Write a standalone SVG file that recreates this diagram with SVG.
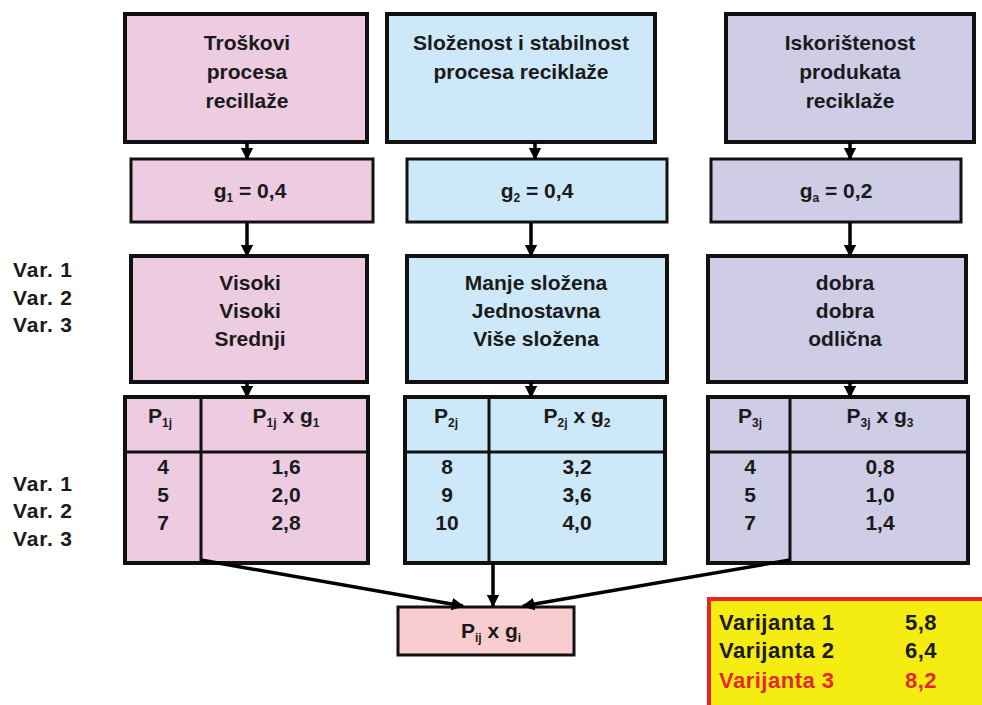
<svg xmlns="http://www.w3.org/2000/svg" width="982" height="705" viewBox="0 0 982 705">
  <style>
    .box { stroke: #111; stroke-width: 4; }
    .thin { stroke: #111; stroke-width: 3; }
    .pink { fill: #EDCCE2; }
    .blue { fill: #CDE9F9; }
    .violet { fill: #CFCCE6; }
    .rose { fill: #F9CDCF; }
    text { font-family: "Liberation Sans", Arial, sans-serif; fill: #1a1a1a; }
    .t { font-size: 21px; font-weight: bold; text-anchor: middle; }
    .v { font-size: 21px; font-weight: bold; letter-spacing: 0.8px; }
    .sub { font-size: 12px; }
    .conn { stroke: #000; stroke-width: 3.5; fill: none; }
    .res { font-size: 22px; font-weight: bold; letter-spacing: 0.5px; }
    .hot { fill: #E5262B; }
  </style>
  <defs>
    <marker id="arrow" viewBox="0 0 10 10" refX="9" refY="5" markerWidth="3.6" markerHeight="3.6" orient="auto" markerUnits="strokeWidth">
      <path d="M0,0 L10,5 L0,10 Z" fill="#000"/>
    </marker>
  </defs>

  <!-- criteria -->
  <g id="crit1">
    <rect class="box pink" x="125" y="14" width="242" height="128"/>
    <text class="t" x="247" y="50">Troškovi</text>
    <text class="t" x="247" y="79">procesa</text>
    <text class="t" x="247" y="108">recillaže</text>
  </g>
  <g id="crit2">
    <rect class="box blue" x="387" y="14" width="268" height="128"/>
    <text class="t" x="521" y="50">Složenost i stabilnost</text>
    <text class="t" x="521" y="79">procesa reciklaže</text>
  </g>
  <g id="crit3">
    <rect class="box violet" x="726" y="14" width="248" height="128"/>
    <text class="t" x="850" y="50">Iskorištenost</text>
    <text class="t" x="850" y="79">produkata</text>
    <text class="t" x="850" y="108">reciklaže</text>
  </g>

  <!-- weights -->
  <g id="weight1">
    <rect class="thin pink" x="131" y="159" width="242" height="63"/>
    <text class="t" x="250" y="198">g<tspan class="sub" dy="4">1</tspan><tspan dy="-4"> = 0,4</tspan></text>
  </g>
  <g id="weight2">
    <rect class="thin blue" x="407" y="159" width="260" height="63"/>
    <text class="t" x="537" y="198">g<tspan class="sub" dy="4">2</tspan><tspan dy="-4"> = 0,4</tspan></text>
  </g>
  <g id="weight3">
    <rect class="thin violet" x="711" y="159" width="250" height="63"/>
    <text class="t" x="836" y="198">g<tspan class="sub" dy="4">a</tspan><tspan dy="-4"> = 0,2</tspan></text>
  </g>

  <!-- variant labels -->
  <g id="varLabelsTop">
    <text class="v" x="13" y="277">Var. 1</text>
    <text class="v" x="13" y="305">Var. 2</text>
    <text class="v" x="13" y="332">Var. 3</text>
  </g>
  <g id="varLabelsBottom">
    <text class="v" x="13" y="491">Var. 1</text>
    <text class="v" x="13" y="518">Var. 2</text>
    <text class="v" x="13" y="546">Var. 3</text>
  </g>

  <!-- ratings -->
  <g id="rating1">
    <rect class="box pink" x="131" y="256" width="236" height="126"/>
    <text class="t" x="250" y="290">Visoki</text>
    <text class="t" x="250" y="318">Visoki</text>
    <text class="t" x="250" y="346">Srednji</text>
  </g>
  <g id="rating2">
    <rect class="box blue" x="407" y="256" width="260" height="126"/>
    <text class="t" x="536" y="290">Manje složena</text>
    <text class="t" x="536" y="318">Jednostavna</text>
    <text class="t" x="536" y="346">Više složena</text>
  </g>
  <g id="rating3">
    <rect class="box violet" x="708" y="256" width="258" height="126"/>
    <text class="t" x="845" y="290">dobra</text>
    <text class="t" x="845" y="318">dobra</text>
    <text class="t" x="845" y="346">odlična</text>
  </g>

  <!-- score tables -->
  <g id="table1">
    <rect class="box pink" x="125" y="397" width="243" height="166"/>
    <line class="thin" x1="201" y1="397" x2="201" y2="563"/>
    <line class="thin" x1="125" y1="452" x2="368" y2="452"/>
    <text class="t" x="160" y="423">P<tspan class="sub" dy="4">1j</tspan></text>
    <text class="t" x="286" y="423">P<tspan class="sub" dy="4">1j</tspan><tspan dy="-4"> x g</tspan><tspan class="sub" dy="4">1</tspan></text>
    <text class="t" x="163" y="474">4</text>
    <text class="t" x="163" y="502">5</text>
    <text class="t" x="163" y="530">7</text>
    <text class="t" x="286" y="474">1,6</text>
    <text class="t" x="286" y="502">2,0</text>
    <text class="t" x="286" y="530">2,8</text>
  </g>
  <g id="table2">
    <rect class="box blue" x="405" y="397" width="260" height="166"/>
    <line class="thin" x1="489" y1="397" x2="489" y2="563"/>
    <line class="thin" x1="405" y1="452" x2="665" y2="452"/>
    <text class="t" x="446" y="423">P<tspan class="sub" dy="4">2j</tspan></text>
    <text class="t" x="577" y="423">P<tspan class="sub" dy="4">2j</tspan><tspan dy="-4"> x g</tspan><tspan class="sub" dy="4">2</tspan></text>
    <text class="t" x="447" y="474">8</text>
    <text class="t" x="447" y="502">9</text>
    <text class="t" x="447" y="530">10</text>
    <text class="t" x="577" y="474">3,2</text>
    <text class="t" x="577" y="502">3,6</text>
    <text class="t" x="577" y="530">4,0</text>
  </g>
  <g id="table3">
    <rect class="box violet" x="708" y="397" width="260" height="166"/>
    <line class="thin" x1="790" y1="397" x2="790" y2="563"/>
    <line class="thin" x1="708" y1="452" x2="968" y2="452"/>
    <text class="t" x="750" y="423">P<tspan class="sub" dy="4">3j</tspan></text>
    <text class="t" x="880" y="423">P<tspan class="sub" dy="4">3j</tspan><tspan dy="-4"> x g</tspan><tspan class="sub" dy="4">3</tspan></text>
    <text class="t" x="750" y="474">4</text>
    <text class="t" x="750" y="502">5</text>
    <text class="t" x="750" y="530">7</text>
    <text class="t" x="880" y="474">0,8</text>
    <text class="t" x="880" y="502">1,0</text>
    <text class="t" x="880" y="530">1,4</text>
  </g>

  <!-- weighted sum -->
  <g id="sum">
    <rect class="thin rose" x="398" y="607" width="176" height="48"/>
    <text class="t" x="491" y="638">P<tspan class="sub" dy="4">ij</tspan><tspan dy="-4"> x g</tspan><tspan class="sub" dy="4">i</tspan></text>
  </g>

  <!-- results -->
  <g id="results">
    <rect x="709" y="599" width="276" height="110" fill="#F5EC12" stroke="#E5262B" stroke-width="4"/>
    <text class="res" x="719" y="630">Varijanta 1</text>
    <text class="res" x="905" y="630">5,8</text>
    <text class="res" x="719" y="658">Varijanta 2</text>
    <text class="res" x="905" y="658">6,4</text>
    <text class="res hot" x="719" y="688">Varijanta 3</text>
    <text class="res hot" x="905" y="688">8,2</text>
  </g>

  <!-- connectors -->
  <g id="connectors">
    <line class="conn" x1="247" y1="142" x2="247" y2="159" marker-end="url(#arrow)"/>
    <line class="conn" x1="535" y1="142" x2="535" y2="159" marker-end="url(#arrow)"/>
    <line class="conn" x1="850" y1="142" x2="850" y2="159" marker-end="url(#arrow)"/>
    <line class="conn" x1="247" y1="222" x2="247" y2="256" marker-end="url(#arrow)"/>
    <line class="conn" x1="531" y1="222" x2="531" y2="256" marker-end="url(#arrow)"/>
    <line class="conn" x1="850" y1="222" x2="850" y2="256" marker-end="url(#arrow)"/>
    <line class="conn" x1="247" y1="382" x2="247" y2="397" marker-end="url(#arrow)"/>
    <line class="conn" x1="531" y1="382" x2="531" y2="397" marker-end="url(#arrow)"/>
    <line class="conn" x1="850" y1="382" x2="850" y2="397" marker-end="url(#arrow)"/>
    <line class="conn" x1="201" y1="560" x2="463" y2="606" marker-end="url(#arrow)"/>
    <line class="conn" x1="493" y1="563" x2="493" y2="606" marker-end="url(#arrow)"/>
    <line class="conn" x1="790" y1="560" x2="523" y2="606" marker-end="url(#arrow)"/>
  </g>
</svg>
